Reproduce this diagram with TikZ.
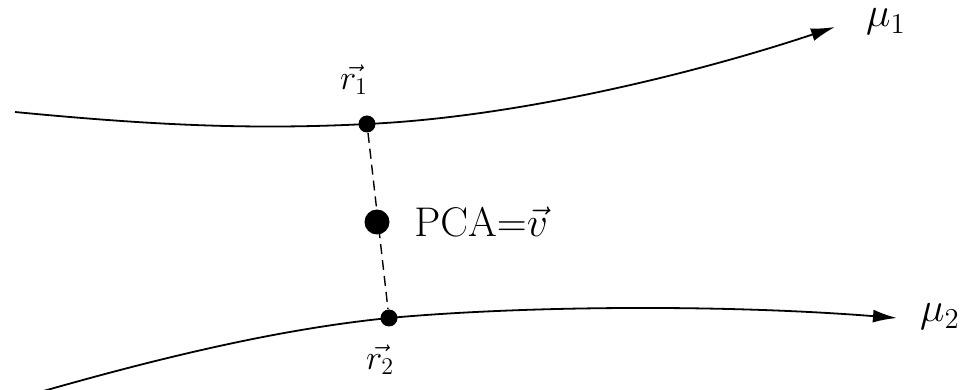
\documentclass[tikz,border=0pt]{standalone}
\usetikzlibrary{arrows.meta}
\begin{document}
\begin{tikzpicture}[x=0.5pt,y=-0.5pt,
  dot/.style={circle,fill=black,inner sep=0pt,minimum size=#1},
  curve/.style={line width=0.9pt,-{Latex[length=12pt,width=6.5pt]}},
  biglbl/.style={font=\fontsize{20}{24}\selectfont,inner sep=0pt},
  smalllbl/.style={font=\fontsize{17}{20}\selectfont,inner sep=0pt}]
\useasboundingbox (0,0) rectangle (966,390);
\coordinate (a1) at (15,112);
\coordinate (b1) at (835,27);
\coordinate (a2) at (40,392);
\coordinate (b2) at (897,318);
\node[dot=8.5pt] (r1) at (367,124) {};
\node[dot=12.5pt] (pca) at (377,222) {};
\node[dot=8.5pt] (r2) at (389,318) {};
\draw[curve] (a1) .. controls (150,125) and (250,130) .. (r1.center)
  .. controls (520,117) and (700,72) .. (b1);
\draw[curve] (a2) .. controls (180,352) and (290,328) .. (r2.center)
  .. controls (520,306) and (720,304) .. (b2);
\draw[line width=0.7pt,dash pattern=on 5pt off 3pt] (r1) -- (r2);
\node[smalllbl] (l1) at (354,80) {$\vec{r_1}$};
\node[smalllbl] (l2) at (380,360) {$\vec{r_2}$};
\node[biglbl,anchor=west] (lp) at (414,222) {$\mathrm{PCA}{=}\vec{v}$};
\node[biglbl] (m1) at (886,22) {$\mu_1$};
\node[biglbl] (m2) at (940,317) {$\mu_2$};
\end{tikzpicture}
\end{document}
